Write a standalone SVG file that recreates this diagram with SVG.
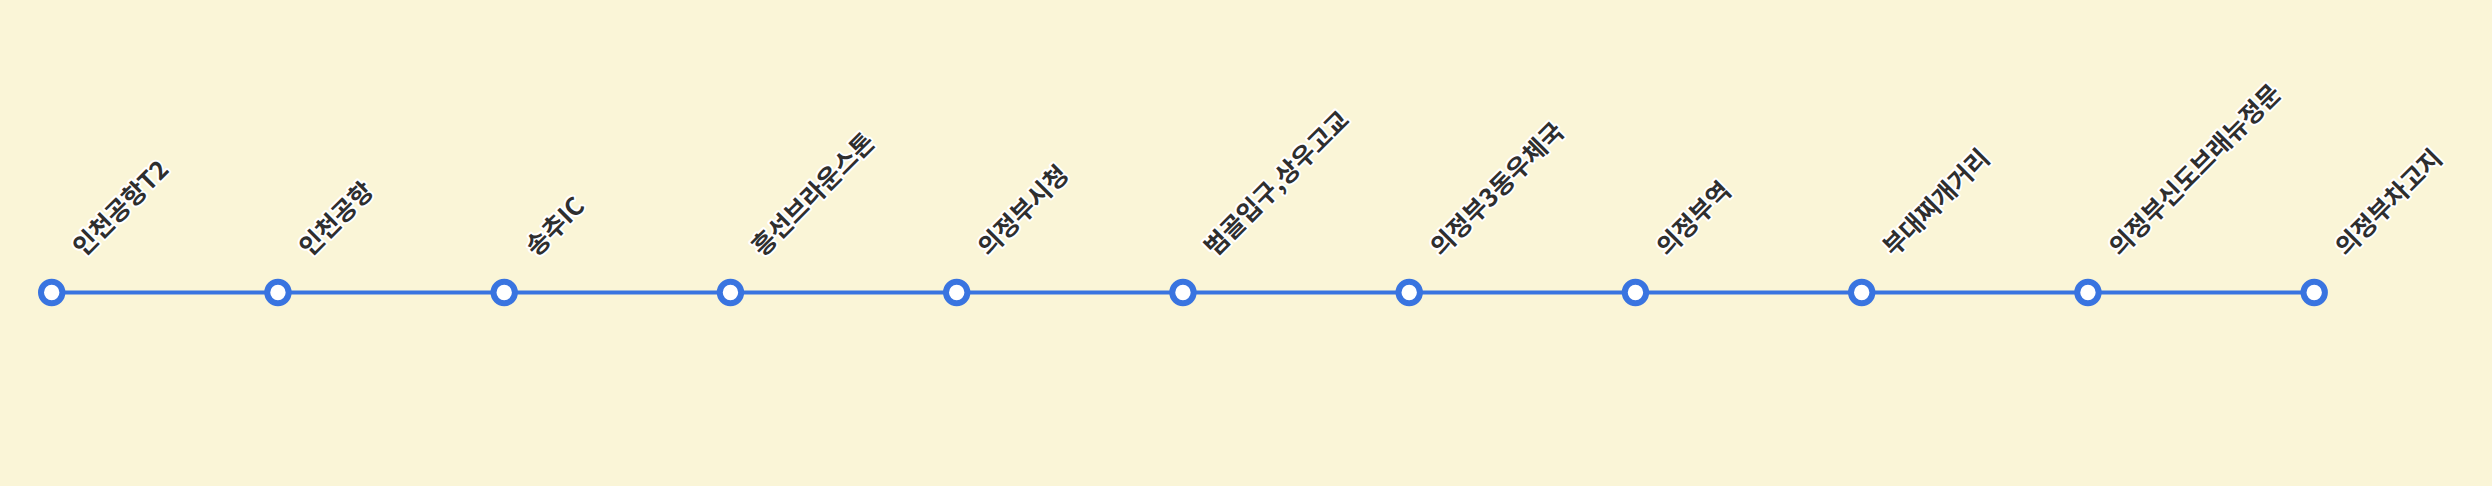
<svg xmlns="http://www.w3.org/2000/svg" width="2492" height="486" viewBox="0 0 2492 486">
<style>
.bg{fill:#faf5d7}
.route{stroke:#3974e0;stroke-width:4;fill:none}
.stop{fill:#ffffff;stroke:#3974e0;stroke-width:6}
.lbl{font-family:"Noto Sans CJK KR","Noto Sans",sans-serif;font-weight:700;font-size:25px;fill:#2e2e2e;stroke:#ffffff;stroke-width:4;stroke-linejoin:round;paint-order:stroke}
</style>
<rect class="bg" x="0" y="0" width="2492" height="486"/>
<g id="connectors">
<line class="route" x1="51.7" y1="292.5" x2="2314.2" y2="292.5"/>
</g>
<g id="s1"><circle class="stop" cx="51.7" cy="292.5" r="10.7"/><text class="lbl" transform="translate(83.7,257.5) rotate(-45)">인천공항T2</text></g>
<g id="s2"><circle class="stop" cx="277.95" cy="292.5" r="10.7"/><text class="lbl" transform="translate(309.95,257.5) rotate(-45)">인천공항</text></g>
<g id="s3"><circle class="stop" cx="504.2" cy="292.5" r="10.7"/><text class="lbl" transform="translate(536.2,257.5) rotate(-45)">송추IC</text></g>
<g id="s4"><circle class="stop" cx="730.45" cy="292.5" r="10.7"/><text class="lbl" transform="translate(762.45,257.5) rotate(-45)">흥선브라운스톤</text></g>
<g id="s5"><circle class="stop" cx="956.7" cy="292.5" r="10.7"/><text class="lbl" transform="translate(988.7,257.5) rotate(-45)">의정부시청</text></g>
<g id="s6"><circle class="stop" cx="1182.95" cy="292.5" r="10.7"/><text class="lbl" transform="translate(1214.95,257.5) rotate(-45)">범골입구,상우고교</text></g>
<g id="s7"><circle class="stop" cx="1409.2" cy="292.5" r="10.7"/><text class="lbl" transform="translate(1441.2,257.5) rotate(-45)">의정부3동우체국</text></g>
<g id="s8"><circle class="stop" cx="1635.45" cy="292.5" r="10.7"/><text class="lbl" transform="translate(1667.45,257.5) rotate(-45)">의정부역</text></g>
<g id="s9"><circle class="stop" cx="1861.7" cy="292.5" r="10.7"/><text class="lbl" transform="translate(1893.7,257.5) rotate(-45)">부대찌개거리</text></g>
<g id="s10"><circle class="stop" cx="2087.95" cy="292.5" r="10.7"/><text class="lbl" transform="translate(2119.95,257.5) rotate(-45)">의정부신도브래뉴정문</text></g>
<g id="s11"><circle class="stop" cx="2314.2" cy="292.5" r="10.7"/><text class="lbl" transform="translate(2346.2,257.5) rotate(-45)">의정부차고지</text></g>
</svg>
